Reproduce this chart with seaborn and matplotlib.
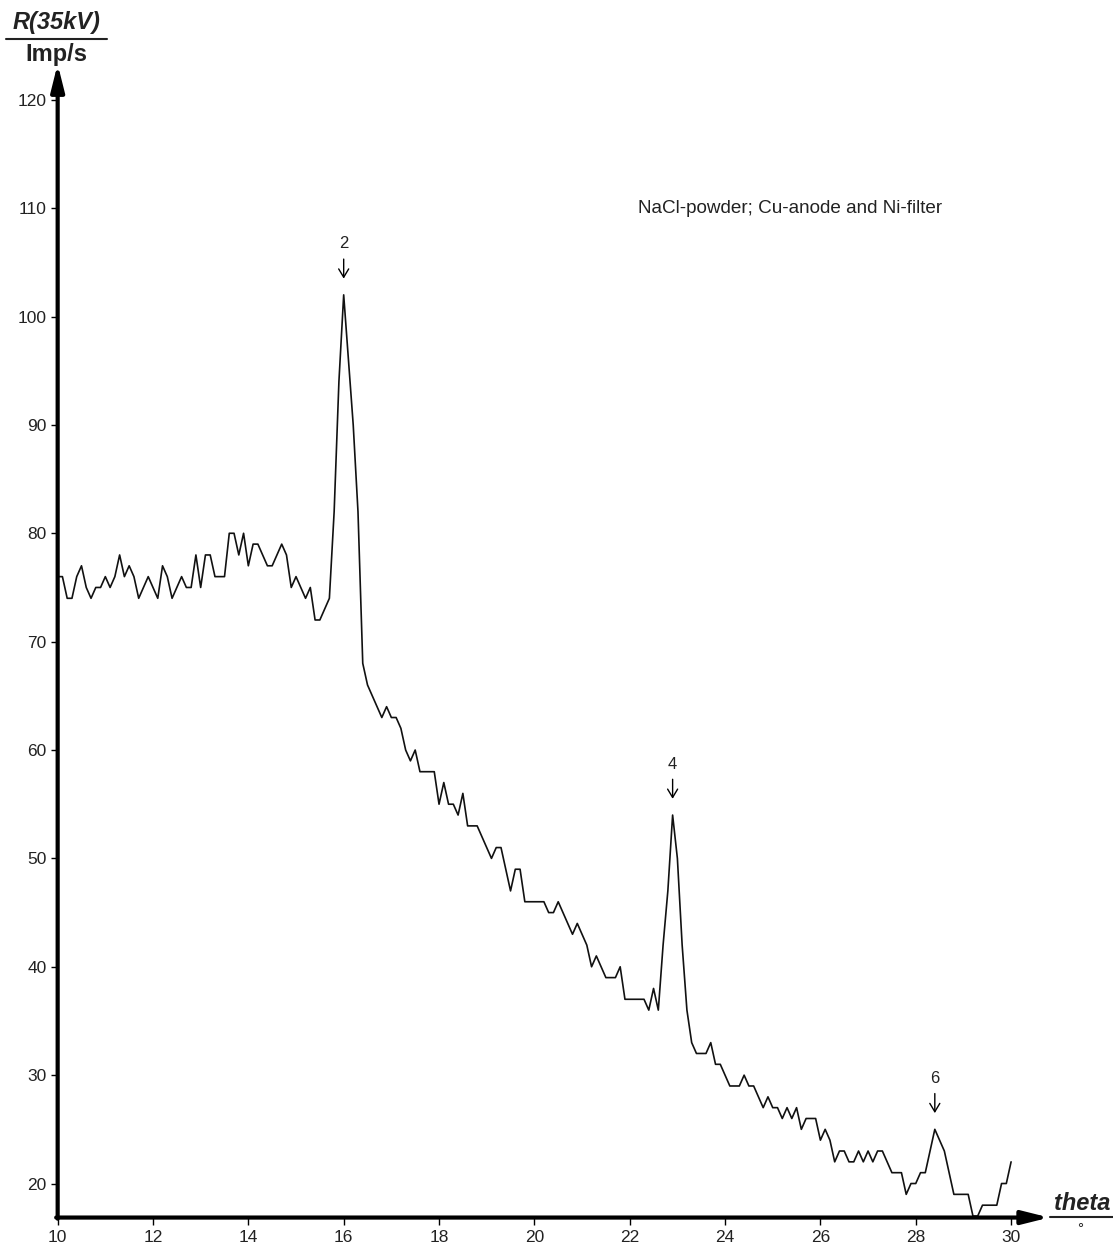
import numpy as np
import pandas as pd
import matplotlib
matplotlib.use("Agg")
import matplotlib.pyplot as plt
import seaborn as sns

# scan from 10 to 30 deg in steps of 0.1 deg
theta_start = 10.0
theta_step = 0.1
rate = [
    76, 76, 74, 74, 76, 77, 75, 74, 75, 75,   # 10.0
    76, 75, 76, 78, 76, 77, 76, 74, 75, 76,   # 11.0
    75, 74, 77, 76, 74, 75, 76, 75, 75, 78,   # 12.0
    75, 78, 78, 76, 76, 76, 80, 80, 78, 80,   # 13.0
    77, 79, 79, 78, 77, 77, 78, 79, 78, 75,   # 14.0
    76, 75, 74, 75, 72, 72, 73, 74, 82, 94,   # 15.0
    102, 96, 90, 82, 68, 66, 65, 64, 63, 64,  # 16.0
    63, 63, 62, 60, 59, 60, 58, 58, 58, 58,   # 17.0
    55, 57, 55, 55, 54, 56, 53, 53, 53, 52,   # 18.0
    51, 50, 51, 51, 49, 47, 49, 49, 46, 46,   # 19.0
    46, 46, 46, 45, 45, 46, 45, 44, 43, 44,   # 20.0
    43, 42, 40, 41, 40, 39, 39, 39, 40, 37,   # 21.0
    37, 37, 37, 37, 36, 38, 36, 42, 47, 54,   # 22.0
    50, 42, 36, 33, 32, 32, 32, 33, 31, 31,   # 23.0
    30, 29, 29, 29, 30, 29, 29, 28, 27, 28,   # 24.0
    27, 27, 26, 27, 26, 27, 25, 26, 26, 26,   # 25.0
    24, 25, 24, 22, 23, 23, 22, 22, 23, 22,   # 26.0
    23, 22, 23, 23, 22, 21, 21, 21, 19, 20,   # 27.0
    20, 21, 21, 23, 25, 24, 23, 21, 19, 19,   # 28.0
    19, 19, 17, 17, 18, 18, 18, 18, 20, 20,   # 29.0
    22,                                       # 30.0
]
theta = theta_start + theta_step * np.arange(len(rate))

peak_labels = ["2", "4", "6"]
peak_theta = [16.0, 22.9, 28.4]
peak_rate = [102, 54, 25]

xticks = [10, 12, 14, 16, 18, 20, 22, 24, 26, 28, 30]
yticks = [20, 30, 40, 50, 60, 70, 80, 90, 100, 110, 120]
note = "NaCl-powder; Cu-anode and Ni-filter"

df = pd.DataFrame({"theta": theta, "rate": rate})

sns.set_style("white")
plt.rcParams["font.family"] = ["Liberation Sans", "DejaVu Sans"]

fig = plt.figure(figsize=(11.13, 12.48), dpi=100)
ax = fig.add_axes([0.0518, 0.0244, 0.8909, 0.9243])

sns.lineplot(data=df, x="theta", y="rate", ax=ax, color="#111111", lw=1.2)

ax.set_xlim(10, 30.8)
ax.set_ylim(16.86, 123.3)
ax.set_xticks(xticks)
ax.set_yticks(yticks)
ax.set_xlabel("")
ax.set_ylabel("")
for s in ax.spines.values():
    s.set_visible(False)
ax.tick_params(axis="both", direction="out", length=5, width=1, color="black",
               labelsize=12.5, labelcolor="#222222", left=True, bottom=True)
ax.tick_params(axis="x", pad=4)
ax.tick_params(axis="y", pad=3)

# axes drawn as thick arrows
arrow = dict(arrowstyle="-|>,head_length=0.8,head_width=0.2", lw=3,
             color="black", shrinkA=0, shrinkB=0, mutation_scale=20)
ax.annotate("", xy=(0, 1), xytext=(0, -0.001), xycoords="axes fraction",
            arrowprops=arrow)
ax.annotate("", xy=(1, 0), xytext=(-0.0015, 0), xycoords="axes fraction",
            arrowprops=arrow)

# peak markers
for lab, px, py in zip(peak_labels, peak_theta, peak_rate):
    ax.annotate("", xy=(px, py + 1.5), xytext=(px, py + 3.3),
                arrowprops=dict(arrowstyle="->,head_length=0.5,head_width=0.3",
                                lw=1, color="black", mutation_scale=12,
                                shrinkA=0, shrinkB=0))
    ax.text(px, py + 4.7, lab, ha="center", va="center", fontsize=12,
            color="#222222")

ax.text(22.17, 110, note, ha="left", va="center", fontsize=13.6, color="#222222")

# axis titles
fig.text(57 / 1113, 1 - 22 / 1248, "R(35kV)", ha="center", va="center",
         fontsize=17, style="italic", fontweight="bold", color="#222222")
fig.add_artist(plt.Line2D([6 / 1113, 107 / 1113], [1 - 39 / 1248, 1 - 39 / 1248],
                          color="#222222", lw=1.5))
fig.text(56 / 1113, 1 - 55 / 1248, "Imp/s", ha="center", va="center",
         fontsize=17, fontweight="bold", color="#222222")

fig.text(1082 / 1113, 1 - 1203 / 1248, "theta", ha="center", va="center",
         fontsize=17, style="italic", fontweight="bold", color="#222222")
fig.add_artist(plt.Line2D([1050 / 1113, 1113 / 1113], [1 - 1217 / 1248, 1 - 1217 / 1248],
                          color="#222222", lw=1.5))
fig.text(1080 / 1113, 1 - 1229 / 1248, "°", ha="center", va="center",
         fontsize=11, color="#222222")

fig.savefig("out.png", dpi=100)
